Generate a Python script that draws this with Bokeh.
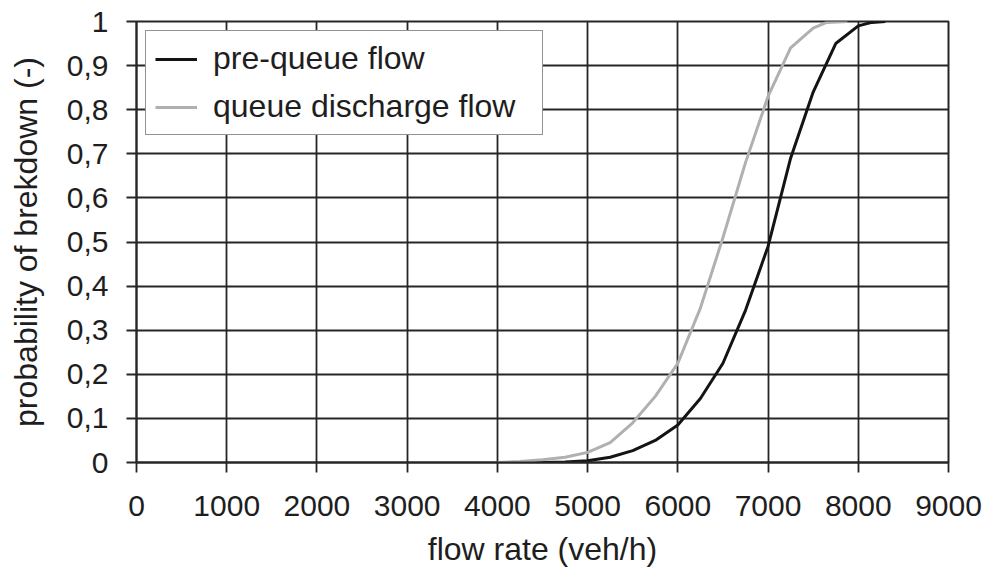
from bokeh.plotting import figure
from bokeh.models import (Range1d, FixedTicker, CustomJSTickFormatter, Legend,
                          LegendItem, Label, LabelSet, ColumnDataSource)
from bokeh.embed import file_html
from bokeh.resources import INLINE

# ---- data ----
flow_pre = [4250, 4500, 4750, 5000, 5250, 5500, 5750, 6000, 6250, 6500, 6750,
            7000, 7250, 7500, 7750, 8000, 8150, 8300]
prob_pre = [0.0, 0.0, 0.001, 0.004, 0.012, 0.027, 0.05, 0.085, 0.145, 0.225,
            0.345, 0.49, 0.69, 0.84, 0.95, 0.99, 0.998, 1.0]

flow_qd = [4000, 4250, 4500, 4750, 5000, 5250, 5500, 5750, 6000, 6250, 6500,
           6750, 7000, 7250, 7500, 7650, 7880]
prob_qd = [0.0, 0.002, 0.006, 0.012, 0.023, 0.045, 0.09, 0.15, 0.225, 0.35,
           0.51, 0.68, 0.83, 0.94, 0.985, 0.998, 1.0]

x_ticks = [0, 1000, 2000, 3000, 4000, 5000, 6000, 7000, 8000, 9000]
y_ticks = [0, 0.1, 0.2, 0.3, 0.4, 0.5, 0.6, 0.7, 0.8, 0.9, 1.0]

series_names = ["pre-queue flow", "queue discharge flow"]
x_title = "flow rate (veh/h)"
y_title = "probability of brekdown (-)"
watermark = "TION A"

FONT = "Liberation Sans"
TXT = "#1e1e1e"
INK = "#262626"

p = figure(width=987, height=574, output_backend="svg", toolbar_location=None,
           x_range=Range1d(0, 9000), y_range=Range1d(0, 1),
           min_border_left=136, min_border_right=39, min_border_top=21,
           min_border_bottom=112)
p.background_fill_color = "white"
p.border_fill_color = "white"
p.outline_line_color = INK
p.outline_line_width = 2

# grid
for g in (p.xgrid, p.ygrid):
    g.grid_line_color = INK
    g.grid_line_width = 1.8
p.xaxis.ticker = FixedTicker(ticks=x_ticks)
p.yaxis.ticker = FixedTicker(ticks=y_ticks)
p.xgrid.ticker = FixedTicker(ticks=x_ticks)
p.ygrid.ticker = FixedTicker(ticks=y_ticks)

p.yaxis.formatter = CustomJSTickFormatter(code="""
    if (Math.abs(tick) < 1e-9) return "0";
    if (Math.abs(tick - 1) < 1e-9) return "1";
    return tick.toFixed(1).replace(".", ",");
""")

for ax in (p.xaxis, p.yaxis):
    ax.axis_line_color = INK
    ax.axis_line_width = 1.8
    ax.major_tick_line_color = INK
    ax.major_tick_line_width = 1.8
    ax.major_tick_out = 10
    ax.major_tick_in = 0
    ax.minor_tick_line_color = None
    ax.major_label_text_font = FONT
    ax.major_label_text_font_size = "30px"
    ax.major_label_text_color = TXT
    ax.axis_label_text_font = FONT
    ax.axis_label_text_font_size = "32px"
    ax.axis_label_text_font_style = "normal"
    ax.axis_label_text_color = TXT

p.xaxis.axis_label = x_title
p.yaxis.axis_label = y_title
p.xaxis.major_label_standoff = 23
p.yaxis.major_label_standoff = 18
p.xaxis.axis_label_standoff = 12
p.yaxis.axis_label_standoff = 20

r_pre = p.line(flow_pre, prob_pre, line_color="#141414", line_width=3)
r_qd = p.line(flow_qd, prob_qd, line_color="#b0b0b0", line_width=3)

legend = Legend(items=[LegendItem(label=series_names[0], renderers=[r_pre]),
                       LegendItem(label=series_names[1], renderers=[r_qd])])
legend.location = "top_left"
legend.margin = 9
legend.padding = 9
legend.spacing = 11
legend.glyph_width = 42
legend.glyph_height = 36
legend.label_height = 36
legend.label_width = 320
legend.label_standoff = 16
legend.label_text_font = FONT
legend.label_text_font_size = "32px"
legend.label_text_color = TXT
legend.label_text_baseline = "middle"
legend.border_line_color = INK
legend.border_line_width = 1.8
legend.background_fill_color = "white"
legend.background_fill_alpha = 1.0
p.add_layout(legend)

# watermark (lies outside the frame). A Label in a side panel is not clipped
# to the frame; a negative padding is tried so that it takes no room.
wm_style = dict(angle=0.73, text_color="#ff4d4d", text_alpha=0.72,
                text_font=FONT, text_font_size="46px", text_align="left",
                text_baseline="middle")
try:
    wm = Label(x=7803, y=-0.2585, text=watermark, padding=-75, **wm_style)
    p.add_layout(wm, "below")
except Exception:
    wm_src = ColumnDataSource(dict(x=[7803], y=[-0.2585], text=[watermark]))
    wm = LabelSet(x="x", y="y", text="text", source=wm_src, **wm_style)
    p.add_layout(wm, "below")

open("out.html", "w").write(file_html(p, INLINE))
